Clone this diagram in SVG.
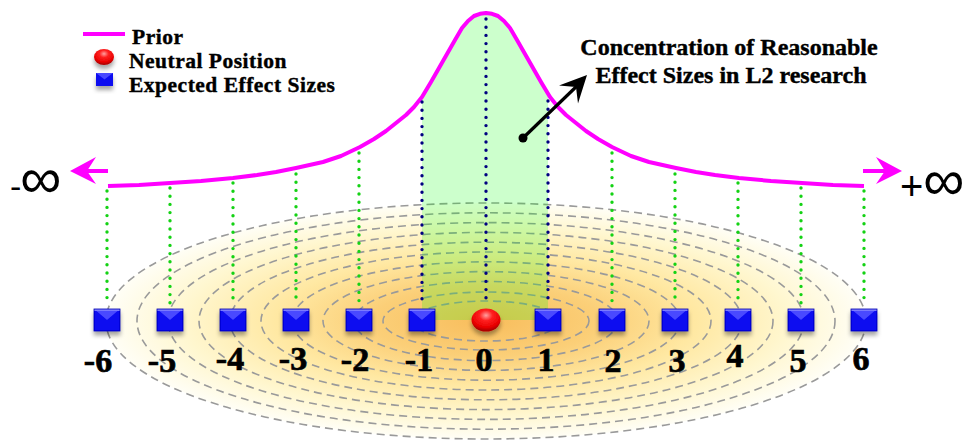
<svg xmlns="http://www.w3.org/2000/svg" width="965" height="441" viewBox="0 0 965 441">
<style>
.lbl{font-family:"Liberation Serif","Times New Roman",serif;font-weight:bold;fill:#000;stroke:#000;stroke-width:0.4}
.num{font-size:34px;text-anchor:middle;stroke-width:0.7}
.leg{font-size:21.5px;letter-spacing:0.5px}
.ann{font-size:24px;text-anchor:middle}
.inf{font-family:"Liberation Sans",Arial,sans-serif;fill:#000}
.ring{fill:none;stroke:#9a9a9a;stroke-width:1.6;stroke-dasharray:8 5}
.gdot{fill:none;stroke:#14d214;stroke-width:3.4;stroke-linecap:round;stroke-dasharray:0 8.2}
.ndot{fill:none;stroke:#000080;stroke-width:3.4;stroke-linecap:round;stroke-dasharray:0 8.2}
.mag{fill:none;stroke:#ff00ff;stroke-width:4;stroke-linejoin:round;stroke-linecap:butt}
</style>
<defs>
<radialGradient id="bg" cx="0.5" cy="0.5" r="0.5">
<stop offset="0" stop-color="#f8bd5c"/>
<stop offset="0.3" stop-color="#fbcf78"/>
<stop offset="0.55" stop-color="#ffe8a2"/>
<stop offset="0.8" stop-color="#fff7d0"/>
<stop offset="1" stop-color="#fffef6"/>
</radialGradient>
<radialGradient id="redg" cx="0.5" cy="0.3" r="0.65">
<stop offset="0" stop-color="#ffa0a0"/>
<stop offset="0.35" stop-color="#ff2020"/>
<stop offset="0.8" stop-color="#e80000"/>
<stop offset="1" stop-color="#b00000"/>
</radialGradient>
<filter id="sh" x="-40%" y="-40%" width="180%" height="200%">
<feDropShadow dx="0" dy="4" stdDeviation="2" flood-color="#000" flood-opacity="0.35"/>
</filter>
<g id="sq">
<rect x="-13" y="-11" width="26" height="22" fill="#0808f0"/>
<polygon points="-13,-11 13,-11 0,0" fill="#4848ff"/>
<rect x="-13" y="-11" width="26" height="2" fill="#7a7aff"/>
<rect x="-13" y="-11" width="26" height="22" fill="none" stroke="#0000b0" stroke-width="0.8"/>
</g>
</defs>

<g id="field">
<ellipse cx="486" cy="321" rx="380" ry="118" fill="url(#bg)"/>
<ellipse class="ring" cx="486" cy="321" rx="380" ry="118"/>
<ellipse class="ring" cx="486" cy="321" rx="349" ry="108.2"/>
<ellipse class="ring" cx="486" cy="321" rx="318" ry="98.4"/>
<ellipse class="ring" cx="486" cy="321" rx="287" ry="88.6"/>
<ellipse class="ring" cx="486" cy="321" rx="256" ry="78.8"/>
<ellipse class="ring" cx="486" cy="321" rx="225" ry="69"/>
<ellipse class="ring" cx="486" cy="321" rx="194" ry="59.2"/>
<ellipse class="ring" cx="486" cy="321" rx="163" ry="49.4"/>
<ellipse class="ring" cx="486" cy="321" rx="132" ry="39.6"/>
<ellipse class="ring" cx="486" cy="321" rx="103" ry="29"/>
<ellipse class="ring" cx="486" cy="321" rx="74" ry="20"/>
</g>

<g id="region">
<polygon fill="#00ff00" fill-opacity="0.2" points="422,97 431,82 439,68 447,54 455,40 462,28 468,21 474,16 480,13.8 486,13 492,13.8 498,16 504,21 510,28 517,40 525,54 533,68 541,82 548,94.5 548,320 422,320"/>
</g>

<g id="prior">
<polyline class="mag" points="108,186 139,185 170,183 201,181 233,178 257,175 276,172 296,168 323,162 341,156 360,147 374,139 386,131 396,123 406,115 414,107 422,97 431,82 439,68 447,54 455,40 462,28 468,21 474,16 480,13.8 486,13 492,13.8 498,16 504,21 510,28 517,40 525,54 533,68 541,82 550,97 558,107 566,115 576,123 586,131 598,139 612,147 631,156 649,162 676,168 696,172 715,175 739,178 771,181 802,183 833,185 864,186"/>
<line class="mag" x1="108" y1="171" x2="80" y2="171"/>
<path d="M70,171 L96,157 L87,171 L96,184 Z" fill="#ff00ff"/>
<line class="mag" x1="863" y1="171" x2="892" y2="171"/>
<path d="M902,171 L876,157 L885,171 L876,184 Z" fill="#ff00ff"/>
</g>

<g id="connectors">
<line class="gdot" x1="107" y1="191" x2="107" y2="305"/>
<line class="gdot" x1="170" y1="188" x2="170" y2="305"/>
<line class="gdot" x1="233" y1="183" x2="233" y2="305"/>
<line class="gdot" x1="296" y1="174" x2="296" y2="305"/>
<line class="gdot" x1="359" y1="153" x2="359" y2="305"/>
<line class="ndot" x1="422" y1="102" x2="422" y2="305"/>
<line class="ndot" x1="486" y1="19" x2="486" y2="305"/>
<line class="ndot" x1="548" y1="101" x2="548" y2="305"/>
<line class="gdot" x1="612" y1="153" x2="612" y2="305"/>
<line class="gdot" x1="675" y1="174" x2="675" y2="305"/>
<line class="gdot" x1="738" y1="183" x2="738" y2="305"/>
<line class="gdot" x1="801" y1="188" x2="801" y2="305"/>
<line class="gdot" x1="864" y1="191" x2="864" y2="305"/>
<line x1="523" y1="138" x2="578" y2="85" stroke="#000" stroke-width="3.2"/>
<circle cx="523" cy="138" r="4.5" fill="#000"/>
<path d="M587,75 L559,85.5 L576,87 L578,103.5 Z" fill="#000"/>
</g>

<g id="n-6"><use href="#sq" x="107" y="320" filter="url(#sh)"/><text class="lbl num" x="98" y="372">-6</text></g>
<g id="n-5"><use href="#sq" x="170" y="320" filter="url(#sh)"/><text class="lbl num" x="162" y="372">-5</text></g>
<g id="n-4"><use href="#sq" x="233" y="320" filter="url(#sh)"/><text class="lbl num" x="230" y="370">-4</text></g>
<g id="n-3"><use href="#sq" x="296" y="320" filter="url(#sh)"/><text class="lbl num" x="293" y="370">-3</text></g>
<g id="n-2"><use href="#sq" x="359" y="320" filter="url(#sh)"/><text class="lbl num" x="355" y="371">-2</text></g>
<g id="n-1"><use href="#sq" x="422" y="320" filter="url(#sh)"/><text class="lbl num" x="419" y="371">-1</text></g>
<g id="n0"><ellipse cx="486" cy="320" rx="14.5" ry="11.5" fill="url(#redg)" filter="url(#sh)"/><text class="lbl num" x="484" y="371">0</text></g>
<g id="n1"><use href="#sq" x="548" y="320" filter="url(#sh)"/><text class="lbl num" x="546" y="371">1</text></g>
<g id="n2"><use href="#sq" x="612" y="320" filter="url(#sh)"/><text class="lbl num" x="613" y="372">2</text></g>
<g id="n3"><use href="#sq" x="675" y="320" filter="url(#sh)"/><text class="lbl num" x="677" y="372">3</text></g>
<g id="n4"><use href="#sq" x="738" y="320" filter="url(#sh)"/><text class="lbl num" x="735" y="367">4</text></g>
<g id="n5"><use href="#sq" x="801" y="320" filter="url(#sh)"/><text class="lbl num" x="798" y="372">5</text></g>
<g id="n6"><use href="#sq" x="864" y="320" filter="url(#sh)"/><text class="lbl num" x="861" y="370">6</text></g>

<g id="neg-inf"><text class="inf" x="10" y="198"><tspan font-size="34">-</tspan><tspan font-size="58" dx="-1">∞</tspan></text></g>
<g id="pos-inf"><text class="inf" x="900" y="200"><tspan font-size="40">+</tspan><tspan font-size="58">∞</tspan></text></g>

<g id="annotation">
<text class="lbl ann" x="729" y="55">Concentration of Reasonable</text>
<text class="lbl ann" x="731" y="83">Effect Sizes in L2 research</text>
</g>

<g id="legend">
<line class="mag" x1="83" y1="34" x2="125" y2="34"/>
<text class="lbl leg" x="132" y="44">Prior</text>
<ellipse cx="104" cy="57" rx="10" ry="8" fill="url(#redg)" filter="url(#sh)"/>
<text class="lbl leg" x="129" y="68">Neutral Position</text>
<g filter="url(#sh)"><rect x="96" y="73" width="17" height="13" fill="#0808f0"/><polygon points="96,73 113,73 104.5,79.5" fill="#4848ff"/></g>
<text class="lbl leg" x="129" y="92">Expected Effect Sizes</text>
</g>
</svg>
